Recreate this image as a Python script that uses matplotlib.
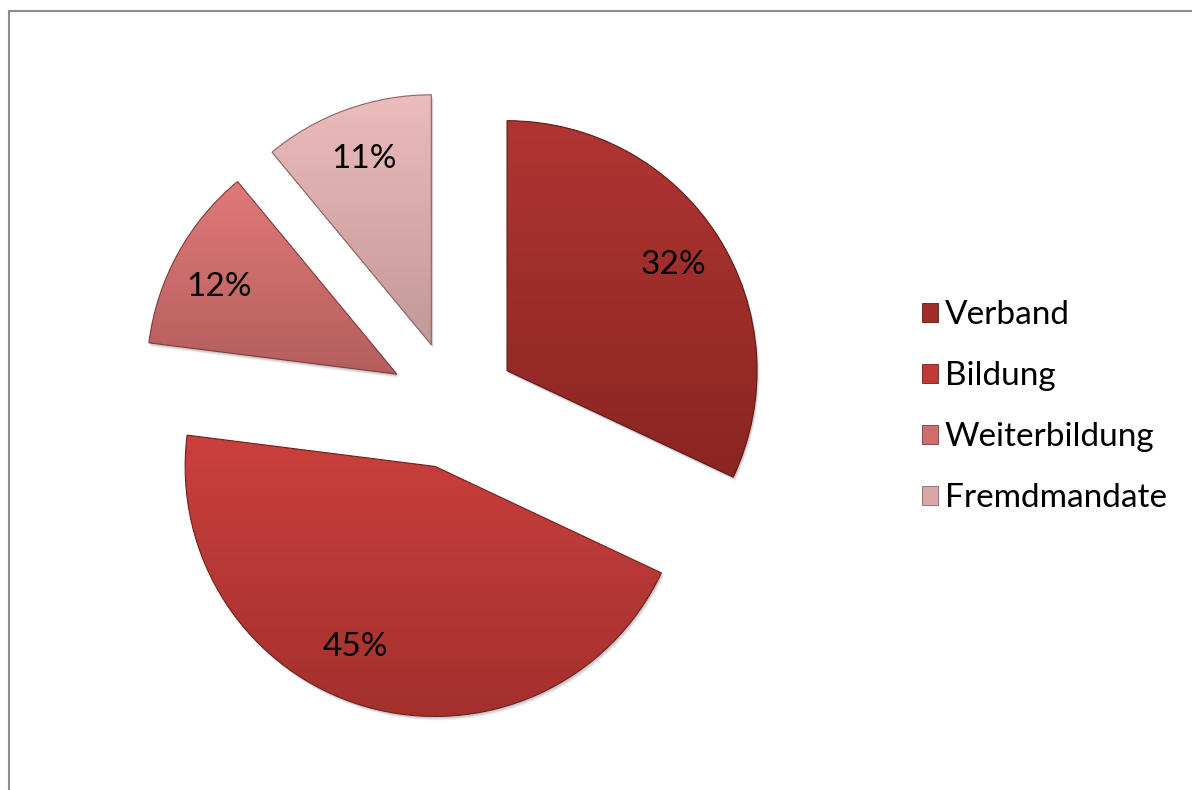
import matplotlib
matplotlib.use("Agg")
import matplotlib.pyplot as plt
import numpy as np
from matplotlib.colors import LinearSegmentedColormap
from matplotlib.patches import Rectangle, Wedge

plt.rcParams['font.family'] = ['Lato', 'DejaVu Sans']

labels = ['Verband', 'Bildung', 'Weiterbildung', 'Fremdmandate']
values = [32, 45, 12, 11]
pct_labels = ['32%', '45%', '12%', '11%']
top_colors = ['#b03532', '#cb403d', '#e07a79', '#edbcbc']
bottom_colors = ['#8a2522', '#a3302d', '#b35e5d', '#c29898']
legend_colors = ['#a02d2a', '#c03a37', '#cf6e6d', '#d9a9a9']
edge_colors = ['#5e1816', '#6e1f1d', '#7d3a39', '#8a6565']
# small angular nudges (deg) for the percentage labels, as Excel places them
label_nudge = [0, -7.5, 2.7, 0]

fig = plt.figure(figsize=(11.92, 7.90), dpi=100)
ax = fig.add_axes([0, 0, 1, 1])

# pixel-like data coordinates (y up)
cx, cy, r = 453, 385, 250
wedges, texts = ax.pie(values, radius=r, center=(cx, cy), startangle=90,
                       counterclock=False, explode=[64] * 4,
                       wedgeprops=dict(linewidth=0))
ax.set_xlim(0, 1192)
ax.set_ylim(0, 790)
ax.set_aspect('equal')
ax.axis('off')

for w, c0, c1, ec, pct, nd in zip(wedges, top_colors, bottom_colors,
                                  edge_colors, pct_labels, label_nudge):
    # soft drop shadow
    for k, a in [(4, 0.05), (3, 0.07), (2, 0.09)]:
        sh = Wedge((w.center[0] + k * 0.6, w.center[1] - k), w.r,
                   w.theta1, w.theta2, facecolor='black', alpha=a,
                   linewidth=0, zorder=0.5)
        ax.add_patch(sh)
    w.set_facecolor('none')
    x0, y0, x1, y1 = w.get_path().get_extents().extents
    cmap = LinearSegmentedColormap.from_list('g', [c1, c0])
    grad = np.linspace(0, 1, 256).reshape(-1, 1)
    im = ax.imshow(grad, cmap=cmap, origin='lower', aspect='auto',
                   extent=(x0 - 2, x1 + 2, y0 - 2, y1 + 2), zorder=1)
    im.set_clip_path(w)
    w.set_zorder(2)
    w.set_edgecolor(ec)
    w.set_linewidth(0.8)
    th = np.deg2rad((w.theta1 + w.theta2) / 2 + nd)
    wx, wy = w.center
    ax.text(wx + 0.79 * r * np.cos(th), wy + 0.79 * r * np.sin(th), pct,
            ha='center', va='center', fontsize=24, color='black', zorder=3)

# legend
handles = [Rectangle((0, 0), 1, 1, facecolor=c, edgecolor=e, linewidth=0.6)
           for c, e in zip(legend_colors, edge_colors)]
ax.legend(handles, labels, loc='center left', bbox_to_anchor=(0.7485, 0.485),
          frameon=False, fontsize=24, handlelength=0.47, handleheight=0.47,
          handletextpad=0.2, labelspacing=0.93)

# chart border (only top and left visible)
fig.add_artist(Rectangle((9 / 1192, -0.1), 1.2, 1 - 11 / 790 + 0.1,
                         transform=fig.transFigure, fill=False,
                         edgecolor='#8c8c8c', linewidth=1.5))

fig.savefig('out.png', dpi=100)
